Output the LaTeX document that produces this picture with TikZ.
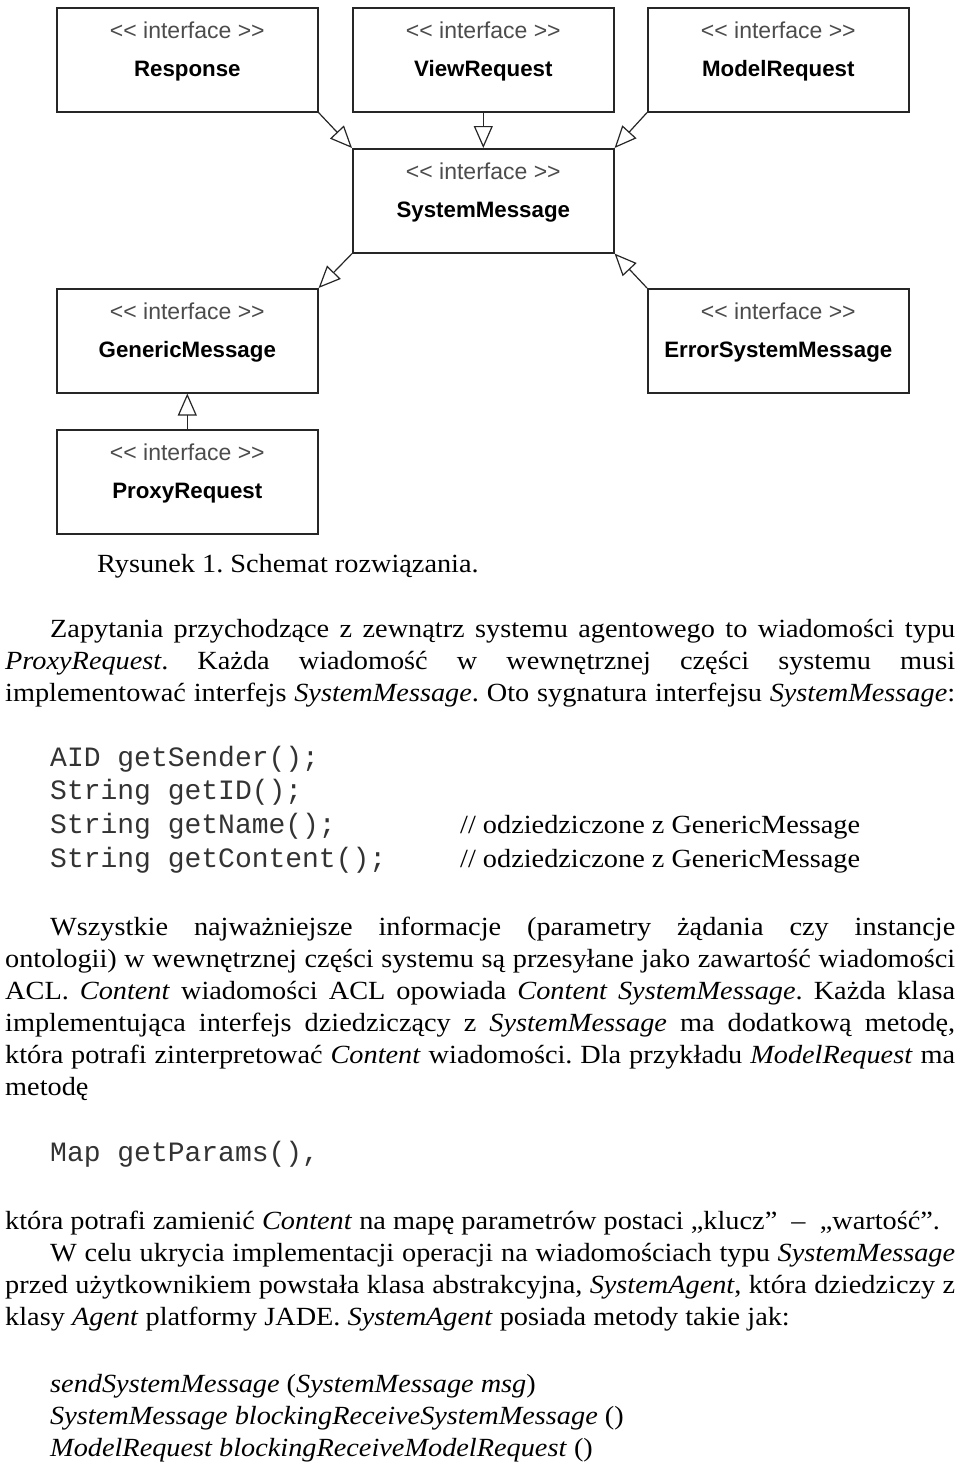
\documentclass[tikz,border=0pt]{standalone}
\usepackage{fontspec}
\setmainfont{Liberation Serif}[FakeStretch=1.08]
\setmonofont{Liberation Mono}
\newfontfamily\stfont{Liberation Sans}
\newfontfamily\nmfont{Liberation Sans}
\usetikzlibrary{arrows.meta,calc}
\frenchspacing
\newcommand{\jline}[2]{\makebox[#1pt][s]{#2}}
\tikzset{
  umlbox/.style={draw=black!85, line width=1.6pt, minimum width=261pt, minimum height=104pt, inner sep=0pt, anchor=north west},
  stereo/.style={font=\stfont\fontsize{23}{25}\selectfont, text=black!70, inner sep=0pt, anchor=base},
  uname/.style={font=\nmfont\bfseries\fontsize{22.3}{24}\selectfont, text=black, inner sep=0pt, anchor=base},
  gen/.style={-{Triangle[open,length=22pt,width=19pt,line width=1.2pt]}, line width=1.2pt, draw=black!85},
  body/.style={font=\fontsize{26.2}{32}\selectfont, inner sep=0pt, anchor=base west},
  code/.style={font=\ttfamily\fontsize{28}{32}\selectfont, text=black!80, inner sep=0pt, anchor=base west}
}
\begin{document}
\begin{tikzpicture}[x=1pt,y=-1pt]
\useasboundingbox[fill=white] (0,0) rectangle (960,1465);
% boxes
\node[umlbox] (resp) at (56,7) {};
\node[umlbox] (view) at (352,7) {};
\node[umlbox] (model) at (647,7) {};
\node[umlbox] (sm) at (352,148) {};
\node[umlbox] (gm) at (56,288) {};
\node[umlbox] (esm) at (647,288) {};
\node[umlbox] (pr) at (56,429) {};
\foreach \b/\n in {resp/Response, view/ViewRequest, model/ModelRequest, sm/SystemMessage, gm/GenericMessage, esm/ErrorSystemMessage, pr/ProxyRequest}{
  \node[stereo] (\b-st) at ($(\b.north)+(0,31)$) {<< interface >>};
  \node[uname] (\b-nm) at ($(\b.north)+(0,69)$) {\n};
}
% generalisations
\draw[gen] (resp.south east) -- (sm.north west);
\draw[gen] (view.south) -- (sm.north);
\draw[gen] (model.south west) -- (sm.north east);
\draw[gen] (sm.south west) -- (gm.north east);
\draw[gen] (esm.north west) -- (sm.south east);
\draw[gen] (pr.north) -- (gm.south);
% caption
\node[body] (cap) at (97,572) {Rysunek 1. Schemat rozwiązania.};
% paragraph 1
\node[body] (p1a) at (50,637) {\jline{905}{Zapytania przychodzące z zewnątrz systemu agentowego to wiadomości typu}};
\node[body] (p1b) at (5,669) {\jline{950}{\textit{ProxyRequest}. Każda wiadomość w wewnętrznej części systemu musi}};
\node[body] (p1c) at (5,701) {\jline{950}{implementować interfejs \textit{SystemMessage}. Oto sygnatura interfejsu \textit{SystemMessage}:}};
% code
\node[code] (c1) at (50,766) {AID getSender();};
\node[code] (c2) at (50,799) {String getID();};
\node[code] (c3) at (50,833) {String getName();};
\node[code] (c4) at (50,867) {String getContent();};
\node[body] (k3) at (460,833) {// odziedziczone z GenericMessage};
\node[body] (k4) at (460,867) {// odziedziczone z GenericMessage};
% paragraph 2
\node[body] (p2a) at (50,935) {\jline{905}{Wszystkie najważniejsze informacje (parametry żądania czy instancje}};
\node[body] (p2b) at (5,967) {\jline{950}{ontologii) w wewnętrznej części systemu są przesyłane jako zawartość wiadomości}};
\node[body] (p2c) at (5,999) {\jline{950}{ACL. \textit{Content} wiadomości ACL opowiada \textit{Content SystemMessage}. Każda klasa}};
\node[body] (p2d) at (5,1031) {\jline{950}{implementująca interfejs dziedziczący z \textit{SystemMessage} ma dodatkową metodę,}};
\node[body] (p2e) at (5,1063) {\jline{950}{która potrafi zinterpretować \textit{Content} wiadomości. Dla przykładu \textit{ModelRequest} ma}};
\node[body] (p2f) at (5,1095) {metodę};
% code 2
\node[code] (c5) at (50,1161) {Map getParams(),};
% paragraph 3
\node[body] (p3a) at (5,1229) {która potrafi zamienić \textit{Content} na mapę parametrów postaci „klucz”\ \ –\ \ „wartość”.};
% paragraph 4
\node[body] (p4a) at (50,1261) {\jline{905}{W celu ukrycia implementacji operacji na wiadomościach typu \textit{SystemMessage}}};
\node[body] (p4b) at (5,1293) {\jline{950}{przed użytkownikiem powstała klasa abstrakcyjna, \textit{SystemAgent}, która dziedziczy z}};
\node[body] (p4c) at (5,1325) {klasy \textit{Agent} platformy JADE. \textit{SystemAgent} posiada metody takie jak:};
% methods
\node[body] (m1) at (50,1392) {\textit{sendSystemMessage} (\textit{SystemMessage msg})};
\node[body] (m2) at (50,1424) {\textit{SystemMessage blockingReceiveSystemMessage} ()};
\node[body] (m3) at (50,1456) {\textit{ModelRequest blockingReceiveModelRequest} ()};
\end{tikzpicture}
\end{document}
